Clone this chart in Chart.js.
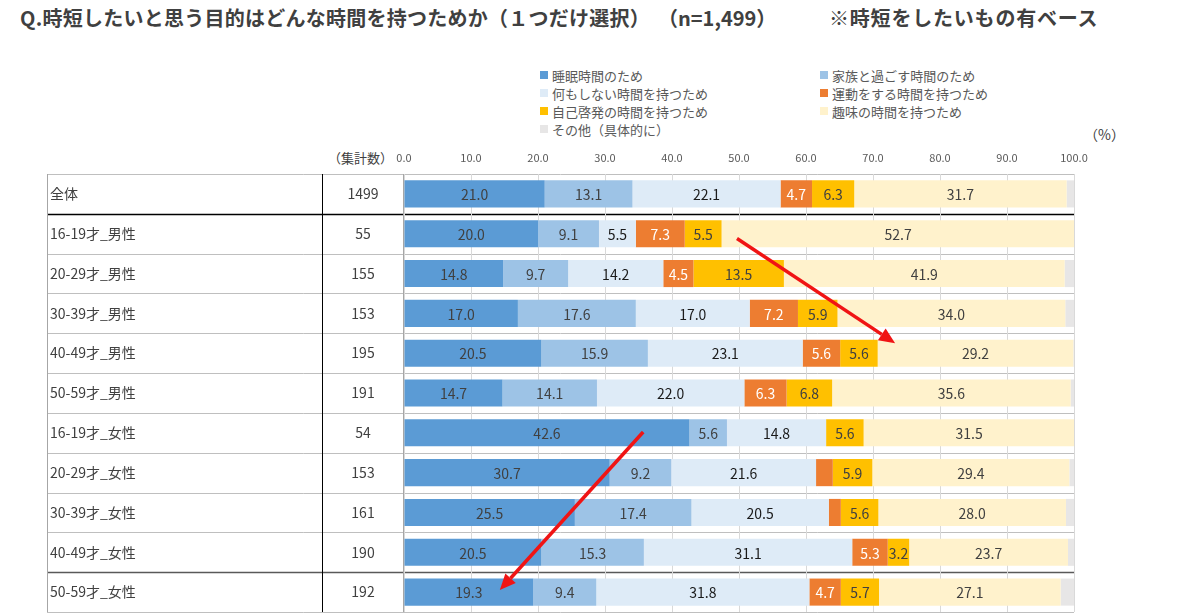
<!DOCTYPE html>
<html lang="ja">
<head>
<meta charset="utf-8">
<title>時短したいと思う目的</title>
<script src="https://cdn.jsdelivr.net/npm/chart.js@4.4.0/dist/chart.umd.min.js"></script>
<style>
  body { margin: 0; background: #fff; font-family: "Noto Sans CJK JP", sans-serif; }
  #wrap { position: relative; width: 1200px; height: 613px; overflow: hidden; }
  #chart { position: absolute; left: 0; top: 0; }
  .title { position: absolute; top: 5px; font-size: 20px; font-weight: bold; color: #404040; white-space: nowrap; line-height: 26px; }
  #legend { position: absolute; left: 540px; top: 66px; display: grid; grid-template-columns: 280px 280px; }
  .item { height: 18px; font-size: 13px; color: #595959; display: flex; align-items: center; white-space: nowrap; }
  .box { width: 8px; height: 8px; margin-right: 4px; }
  .note { position: absolute; color: #404040; white-space: nowrap; }
</style>
</head>
<body>
<div id="wrap">
  <div class="title" style="left:20px; letter-spacing:0.25px">Q.時短したいと思う目的はどんな時間を持つためか（１つだけ選択）</div>
  <div class="title" style="left:658px">（n=1,499）</div>
  <div class="title" style="left:829px; letter-spacing:0.8px">※時短をしたいもの有ベース</div>
  <div id="legend"></div>
  <div class="note" style="left:1084px; top:124px; font-size:14px">（%）</div>
  <div class="note" style="left:328px; top:148px; font-size:13px">（集計数）</div>
  <canvas id="chart" width="1200" height="613"></canvas>
</div>
<script>
const categories = ['全体', '16-19才_男性', '20-29才_男性', '30-39才_男性', '40-49才_男性', '50-59才_男性',
  '16-19才_女性', '20-29才_女性', '30-39才_女性', '40-49才_女性', '50-59才_女性'];
const counts = [1499, 55, 155, 153, 195, 191, 54, 153, 161, 190, 192];

const seriesNames = ['睡眠時間のため', '家族と過ごす時間のため', '何もしない時間を持つため', '運動をする時間を持つため',
  '自己啓発の時間を持つため', '趣味の時間を持つため', 'その他（具体的に）'];
const sleep    = [21.0, 20.0, 14.8, 17.0, 20.5, 14.7, 42.6, 30.7, 25.5, 20.5, 19.3];
const family   = [13.1,  9.1,  9.7, 17.6, 15.9, 14.1,  5.6,  9.2, 17.4, 15.3,  9.4];
const nothing  = [22.1,  5.5, 14.2, 17.0, 23.1, 22.0, 14.8, 21.6, 20.5, 31.1, 31.8];
const exercise = [ 4.7,  7.3,  4.5,  7.2,  5.6,  6.3,  0.0,  2.5,  1.8,  5.3,  4.7];
const selfDev  = [ 6.3,  5.5, 13.5,  5.9,  5.6,  6.8,  5.6,  5.9,  5.6,  3.2,  5.7];
const hobby    = [31.7, 52.7, 41.9, 34.0, 29.2, 35.6, 31.5, 29.4, 28.0, 23.7, 27.1];
const other    = [ 1.1,  0.0,  1.4,  1.3,  0.1,  0.5,  0.0,  0.7,  1.2,  0.9,  2.0];

const xTickLabels = ['0.0', '10.0', '20.0', '30.0', '40.0', '50.0', '60.0', '70.0', '80.0', '90.0', '100.0'];

const seriesColors = ['#5b9bd5', '#9dc3e6', '#deebf7', '#ed7d31', '#ffc000', '#fff2cc', '#e7e6e6'];
const labelColors = ['#404040', '#404040', '#1a1a1a', '#ffffff', '#404040', '#404040', null];

// red arrows drawn on top (data coordinates: [x value, row index])
const arrows = [
  { from: [49.7, 1.12], to: [73.3, 3.75] },
  { from: [35.7, 5.98], to: [14.3, 9.95] }
];

const FONT = '"Noto Sans CJK JP", sans-serif';
const allSeries = [sleep, family, nothing, exercise, selfDev, hobby, other];

const datasets = allSeries.map((data, i) => ({
  label: seriesNames[i],
  data: data,
  backgroundColor: seriesColors[i],
  borderWidth: 0,
  barPercentage: 0.68,
  categoryPercentage: 1
}));

// legend (two columns like the original)
const legend = document.getElementById('legend');
datasets.forEach(ds => {
  const item = document.createElement('div');
  item.className = 'item';
  const box = document.createElement('span');
  box.className = 'box';
  box.style.background = ds.backgroundColor;
  const txt = document.createElement('span');
  txt.textContent = ds.label;
  item.appendChild(box);
  item.appendChild(txt);
  legend.appendChild(item);
});

const tablePlugin = {
  id: 'table',
  beforeDraw(chart) {
    const { ctx, chartArea, scales: { y } } = chart;
    ctx.save();
    for (let i = 0; i <= categories.length; i++) {
      const py = Math.round(y.getPixelForValue(i - 0.5)) + 0.5;
      ctx.beginPath();
      if (i === 1) { ctx.strokeStyle = '#000'; ctx.lineWidth = 1.5; }
      else if (i === 10) { ctx.strokeStyle = '#595959'; ctx.lineWidth = 1.5; }
      else { ctx.strokeStyle = '#bfbfbf'; ctx.lineWidth = 1; }
      ctx.moveTo(47, py);
      ctx.lineTo(chartArea.right, py);
      ctx.stroke();
    }
    const top = Math.round(y.getPixelForValue(-0.5));
    const bottom = Math.round(y.getPixelForValue(categories.length - 0.5));
    [[47.5, '#a6a6a6'], [322.5, '#000'], [403.5, '#a6a6a6']].forEach(([px, col]) => {
      ctx.beginPath();
      ctx.strokeStyle = col;
      ctx.lineWidth = 1;
      ctx.moveTo(px, top);
      ctx.lineTo(px, bottom);
      ctx.stroke();
    });
    ctx.restore();
  },
  afterDatasetsDraw(chart) {
    const { ctx } = chart;
    ctx.save();
    ctx.font = '14px ' + FONT;
    ctx.textAlign = 'center';
    ctx.textBaseline = 'middle';
    chart.data.datasets.forEach((ds, di) => {
      if (!labelColors[di]) return;
      const meta = chart.getDatasetMeta(di);
      meta.data.forEach((bar, i) => {
        const v = ds.data[i];
        if (v < 3) return;
        ctx.fillStyle = labelColors[di];
        ctx.fillText(v.toFixed(1), (bar.x + bar.base) / 2, bar.y + 1);
      });
    });
    ctx.restore();
  },
  afterDraw(chart) {
    const { ctx, scales: { x, y } } = chart;
    ctx.save();
    // counts column
    ctx.font = '14px ' + FONT;
    ctx.fillStyle = '#404040';
    ctx.textAlign = 'center';
    ctx.textBaseline = 'middle';
    counts.forEach((c, i) => ctx.fillText(String(c), 363, y.getPixelForValue(i)));
    // arrows
    ctx.strokeStyle = '#f01414';
    ctx.fillStyle = '#f01414';
    ctx.lineWidth = 3.5;
    arrows.forEach(a => {
      const x1 = x.getPixelForValue(a.from[0]), y1 = y.getPixelForValue(a.from[1]);
      const x2 = x.getPixelForValue(a.to[0]), y2 = y.getPixelForValue(a.to[1]);
      const ang = Math.atan2(y2 - y1, x2 - x1);
      const head = 16, half = 7;
      const bx = x2 - head * Math.cos(ang), by = y2 - head * Math.sin(ang);
      ctx.beginPath();
      ctx.moveTo(x1, y1);
      ctx.lineTo(bx, by);
      ctx.stroke();
      ctx.beginPath();
      ctx.moveTo(x2, y2);
      ctx.lineTo(bx + half * Math.sin(ang), by - half * Math.cos(ang));
      ctx.lineTo(bx - half * Math.sin(ang), by + half * Math.cos(ang));
      ctx.closePath();
      ctx.fill();
    });
    ctx.restore();
  }
};

new Chart(document.getElementById('chart').getContext('2d'), {
  type: 'bar',
  data: { labels: categories, datasets: datasets },
  options: {
    indexAxis: 'y',
    responsive: false,
    animation: false,
    layout: { padding: { left: 50, top: 140, right: 126, bottom: 1 } },
    plugins: { legend: { display: false }, tooltip: { enabled: false } },
    scales: {
      x: {
        position: 'top',
        stacked: true,
        min: 0,
        max: 100,
        afterFit(scale) { scale.height = 34; },
        ticks: {
          stepSize: 10,
          padding: 10,
          color: '#595959',
          font: { family: FONT, size: 11 },
          callback: (v, i) => xTickLabels[i]
        },
        grid: { color: '#d9d9d9', drawTicks: false },
        border: { display: false }
      },
      y: {
        stacked: true,
        afterFit(scale) {
          scale.width = 354;
          scale.paddingTop = 0;
          scale.paddingBottom = 0;
        },
        ticks: {
          crossAlign: 'far',
          color: '#404040',
          font: { family: FONT, size: 14 }
        },
        grid: { display: false },
        border: { display: false }
      }
    }
  },
  plugins: [tablePlugin]
});
</script>
</body>
</html>
